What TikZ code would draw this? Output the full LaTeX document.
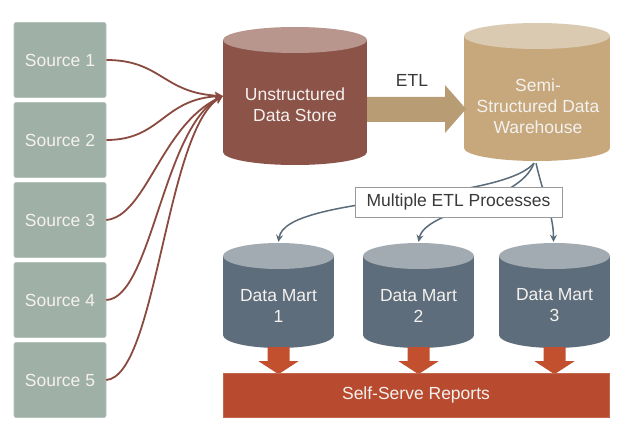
\documentclass[tikz,border=0pt]{standalone}
\usepackage{fontspec}
\setmainfont{Liberation Sans}
\usetikzlibrary{arrows.meta,calc}
\definecolor{srcfill}{HTML}{9FB0A6}
\definecolor{srcedge}{HTML}{B4C2BA}
\definecolor{udsbody}{HTML}{8C5349}
\definecolor{udstop}{HTML}{B8958D}
\definecolor{whbody}{HTML}{C6A87C}
\definecolor{whtop}{HTML}{DACAB1}
\definecolor{etlarrow}{HTML}{B89C74}
\definecolor{dmbody}{HTML}{5E6D7B}
\definecolor{dmtop}{HTML}{A3ABB2}
\definecolor{repred}{HTML}{B84B2F}
\definecolor{arrred}{HTML}{C2502F}
\definecolor{srcline}{HTML}{8A4A40}
\definecolor{dmline}{HTML}{5A6B7A}
\definecolor{darktext}{HTML}{3A3A3A}
\definecolor{lighttext}{HTML}{F4F1EE}
\newcommand\drawcyl[7]{%
  \fill[#6] ({#2-#5},{#3+13}) rectangle ({#2+#5},{#4-13});
  \fill[#6] (#2,{#4-13}) ellipse ({#5} and 13);
  \fill[#7] (#2,{#3+13}) ellipse ({#5} and 13);
  \node[inner sep=0pt, minimum width={2*#5}, minimum height={#4-#3}] (#1) at (#2,{(#3+#4)/2}) {};
}
\begin{document}
\begin{tikzpicture}[x=1pt,y=-1pt,
  every node/.style={font=\fontsize{17.5}{21}\selectfont},
  src/.style={fill=srcfill, draw=srcedge, line width=0.6pt, rounded corners=2pt,
    minimum width=92pt, minimum height=75pt, inner sep=0pt, text=lighttext},
  cyltext/.style={text=lighttext, align=center, inner sep=0pt},
  srcarrow/.style={draw=srcline, line width=1.8pt, -{Stealth[length=8pt,width=8pt]}},
  dmarrow/.style={draw=dmline, line width=1.5pt, -{Stealth[length=7pt,width=7pt]}},
]
\useasboundingbox (0,0) rectangle (626,433);
\fill[white] (0,0) rectangle (626,433);

% sources
\node[src] (s1) at (60,60) {Source 1};
\node[src] (s2) at (60,140) {Source 2};
\node[src] (s3) at (60,220) {Source 3};
\node[src] (s4) at (60,300) {Source 4};
\node[src] (s5) at (60,380) {Source 5};

% cylinders
\drawcyl{uds}{295}{27}{165}{72}{udsbody}{udstop}
\drawcyl{wh}{537}{23}{161}{73}{whbody}{whtop}
\node[cyltext] at (295,105) {Unstructured\\Data Store};
\node[cyltext] at (538,106.5) {Semi-\\Structured Data\\Warehouse};

% source connectors
\draw[srcarrow] (s1.east) .. controls +(55,0) and +(-60,-3) .. (uds.west);
\draw[srcarrow] (s2.east) .. controls +(55,0) and +(-60,3) .. (uds.west);
\draw[srcarrow] (s3.east) .. controls +(40,-4) and +(-62,30) .. (uds.west);
\draw[srcarrow] (s4.east) .. controls +(45,-2) and +(-60,33) .. (uds.west);
\draw[srcarrow] (s5.east) .. controls +(50,-4) and +(-57,36) .. (uds.west);

% ETL block arrow
\fill[etlarrow] (367,97) -- (445,97) -- (445,85) -- (466,109) -- (445,133) -- (445,122) -- (367,122) -- cycle;
\node[text=darktext, inner sep=0pt] (etl) at (412,80) {ETL};

% data marts
\drawcyl{dm1}{278.5}{243}{348}{55.5}{dmbody}{dmtop}
\drawcyl{dm2}{418.5}{243}{348}{55.5}{dmbody}{dmtop}
\drawcyl{dm3}{554.5}{243}{348}{55.5}{dmbody}{dmtop}
\node[cyltext] at (278.5,305.5) {Data Mart\\1};
\node[cyltext] at (418.5,305.5) {Data Mart\\2};
\node[cyltext] at (554.5,305.5) {Data Mart\\3};

% warehouse to data marts
\coordinate (whb) at ($(wh.south)+(-3,2)$);
\draw[dmarrow] (whb) .. controls +(-35,40) and +(7,-47) .. ($(dm1.north)+(0,-1)$);
\draw[dmarrow] (whb) .. controls +(-15,40) and +(7,-32) .. ($(dm2.north)+(0,-1)$);
\draw[dmarrow] ($(whb)+(2,0)$) .. controls +(8,35) and +(0,-27) .. ($(dm3.north)+(-1,-1)$);
\node[draw=gray!80, line width=0.8pt, fill=white, minimum width=207pt, minimum height=30pt,
  inner sep=0pt, text=darktext] (metl) at (458.5,202) {Multiple ETL Processes};

% block arrows to reports
\foreach \d in {dm1,dm2,dm3}{
  \fill[arrred, shift={(\d.south)}] (-11,-1) -- (-11,13) -- (-20,13) -- (0,26) -- (20,13) -- (11,13) -- (11,-1) -- cycle;
}
\node[fill=repred, draw=repred!85!white, line width=0.8pt, minimum width=386pt, minimum height=44pt,
  inner sep=0pt, text=lighttext] (rep) at (416,395) {Self-Serve Reports};
\end{tikzpicture}
\end{document}
